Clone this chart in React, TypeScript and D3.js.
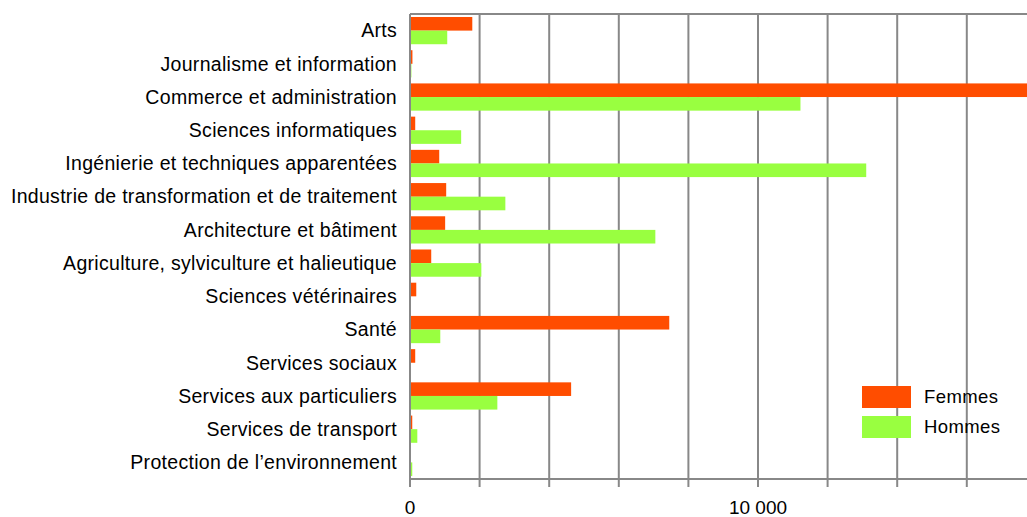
import React from "react";
import * as d3 from "d3";

const categories = [
  "Arts",
  "Journalisme et information",
  "Commerce et administration",
  "Sciences informatiques",
  "Ingénierie et techniques apparentées",
  "Industrie de transformation et de traitement",
  "Architecture et bâtiment",
  "Agriculture, sylviculture et halieutique",
  "Sciences vétérinaires",
  "Santé",
  "Services sociaux",
  "Services aux particuliers",
  "Services de transport",
  "Protection de l’environnement",
];
const femmes = [1790, 70, 18600, 150, 840, 1040, 1010, 610, 180, 7450, 150, 4630, 65, 10];
const hommes = [1070, 40, 11220, 1470, 13110, 2740, 7050, 2050, 10, 870, 5, 2510, 210, 65];
const seriesNames = ["Femmes", "Hommes"];
const gridTicks = [0, 2000, 4000, 6000, 8000, 10000, 12000, 14000, 16000, 18000];
const labelTicks = [0, 10000];
const colors = ["#ff4d00", "#99ff40"];

export default function App() {
  const W = 1027, H = 517;
  const left = 410, top = 14, bottom = 479;
  const x = d3.scaleLinear().domain([0, 18000]).range([left, left + 18000 * 0.0348]);
  const y = d3.scaleBand<string>().domain(categories).range([top, bottom]).paddingInner(0.18).paddingOuter(0.09);
  const bh = y.bandwidth() / 2;
  const font = "'Liberation Sans', Arial, sans-serif";
  return (
    <svg width={W} height={H} style={{ position: "absolute", left: 0, top: 0 }} fontFamily={font}>
      <rect width={W} height={H} fill="#fff" />
      {gridTicks.map((t) => (
        <line key={t} x1={x(t)} x2={x(t)} y1={top} y2={bottom + 8} stroke="#888" strokeWidth={2} />
      ))}
      {categories.map((c, i) => (
        <g key={c}>
          <rect x={x(0)} y={y(c)!} width={x(femmes[i]) - x(0)} height={bh} fill={colors[0]} />
          <rect x={x(0)} y={y(c)! + bh} width={x(hommes[i]) - x(0)} height={bh} fill={colors[1]} />
          <text x={397} y={y(c)! + bh + 6.8} textAnchor="end" fontSize={19.5} letterSpacing={0.3} fill="#000">
            {c}
          </text>
        </g>
      ))}
      <line x1={left} x2={W} y1={top} y2={top} stroke="#888" strokeWidth={2} />
      <line x1={left} x2={W} y1={bottom} y2={bottom} stroke="#888" strokeWidth={2} />
      <line x1={left} x2={left} y1={top} y2={bottom + 8} stroke="#888" strokeWidth={2} />
      {labelTicks.map((t) => (
        <text key={t} x={x(t)} y={513.5} textAnchor="middle" fontSize={19} fill="#000">
          {d3.format(",")(t).replace(/,/g, " ")}
        </text>
      ))}
      {seriesNames.map((s, i) => (
        <g key={s}>
          <rect x={862} y={386 + i * 30} width={49} height={22} fill={colors[i]} />
          <text x={924} y={403.3 + i * 30} fontSize={18.5} letterSpacing={0.4} fill="#000">
            {s}
          </text>
        </g>
      ))}
    </svg>
  );
}
